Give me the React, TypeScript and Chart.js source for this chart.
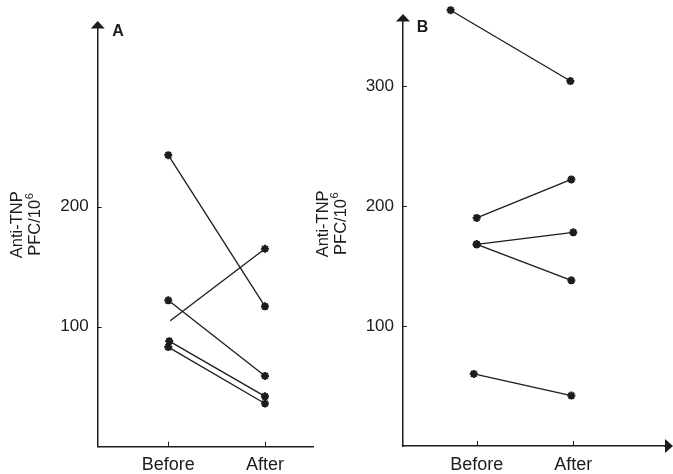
import React, { useEffect, useRef } from "react";
import { Chart, registerables } from "chart.js";

Chart.register(...registerables);

// ---- data ----
const xLabels = ["Before", "After"];

// Panel A
const panelA_before = [243, 105, 122, 88, 83];
const panelA_after = [117, 165, 59, 42, 36];
const panelA_beforeX = [0, 0.02, 0, 0.01, 0];
const panelA_afterX = [1, 1, 1, 1, 1];
const panelA_beforeMarker = [true, false, true, true, true];
const panelA_yTicks = [100, 200];

// Panel B
const panelB_before = [363, 190, 168, 168, 60];
const panelB_after = [304, 222, 178, 138, 42];
const panelB_beforeX = [-0.27, 0, 0, 0, -0.03];
const panelB_afterX = [0.97, 0.98, 1, 0.98, 0.98];
const panelB_beforeMarker = [true, true, true, true, true];
const panelB_yTicks = [100, 200, 300];

const INK = "#1c1c1c";
const FONT = '"Liberation Sans", Arial, Helvetica, sans-serif';

const decorPlugin = {
  id: "decor",
  afterDatasetsDraw(chart: any) {
    // draw markers that lie outside the chart area (clip: false)
    const area = chart.chartArea;
    chart.data.datasets.forEach((_d: any, i: number) => {
      const meta = chart.getDatasetMeta(i);
      meta.data.forEach((el: any) => {
        if (el.y < area.top - 2 || el.y > area.bottom + 2 || el.x < area.left - 2 || el.x > area.right + 2) {
          el.draw(chart.ctx);
        }
      });
    });
  },
  afterDraw(chart: any, _args: any, opts: any) {
    const { ctx, chartArea, scales } = chart;
    const xs = scales.x;
    const ys = scales.y;
    const left = chartArea.left;
    const top = chartArea.top;
    const bottom = chartArea.bottom;
    const right = chartArea.right;
    ctx.save();
    ctx.fillStyle = INK;
    ctx.strokeStyle = INK;
    // y arrow
    ctx.beginPath();
    ctx.moveTo(left - 7, top + 0.5);
    ctx.lineTo(left + 7, top + 0.5);
    ctx.lineTo(left, top - 7);
    ctx.closePath();
    ctx.fill();
    // x arrow
    if (opts.xArrow) {
      ctx.beginPath();
      ctx.moveTo(right - 1, bottom - 7);
      ctx.lineTo(right - 1, bottom + 7);
      ctx.lineTo(right + 7, bottom);
      ctx.closePath();
      ctx.fill();
      ctx.lineWidth = 1.5;
      ctx.beginPath();
      ctx.moveTo(right - 2, bottom);
      ctx.lineTo(right + 2, bottom);
      ctx.stroke();
    }
    // inward ticks
    ctx.lineWidth = 1;
    for (const v of opts.yTicks) {
      const py = Math.round(ys.getPixelForValue(v)) + 0.5;
      ctx.beginPath();
      ctx.moveTo(left, py);
      ctx.lineTo(left + 4, py);
      ctx.stroke();
    }
    for (const v of [0, 1]) {
      const px = Math.round(xs.getPixelForValue(v)) + 0.5;
      ctx.beginPath();
      ctx.moveTo(px, bottom);
      ctx.lineTo(px, bottom - 5);
      ctx.stroke();
    }
    // panel letter
    ctx.font = `bold 16px ${FONT}`;
    ctx.textAlign = "left";
    ctx.textBaseline = "alphabetic";
    ctx.fillText(opts.letter, left + opts.letterDx, top + opts.letterDy);
    // y title
    const cy = ys.getPixelForValue(185);
    ctx.textBaseline = "middle";
    ctx.save();
    ctx.translate(left - 80, cy);
    ctx.rotate(-Math.PI / 2);
    ctx.textAlign = "center";
    ctx.font = `16.5px ${FONT}`;
    ctx.fillText("Anti-TNP", 0, 0);
    ctx.restore();
    ctx.save();
    ctx.translate(left - 62, cy);
    ctx.rotate(-Math.PI / 2);
    ctx.textAlign = "left";
    ctx.font = `16.5px ${FONT}`;
    const main = "PFC/10";
    const w1 = ctx.measureText(main).width;
    ctx.font = `11px ${FONT}`;
    const w2 = ctx.measureText("6").width;
    const start = -(w1 + w2) / 2;
    ctx.font = `16.5px ${FONT}`;
    ctx.fillText(main, start, 0);
    ctx.font = `11px ${FONT}`;
    ctx.fillText("6", start + w1 + 0.5, -6);
    ctx.restore();
    ctx.restore();
  },
};

type PanelProps = {
  before: number[];
  after: number[];
  beforeX: number[];
  afterX: number[];
  beforeMarker: boolean[];
  yTicks: number[];
  letter: string;
  width: number;
  height: number;
  axisWidth: number;
  xAxisHeight: number;
  padTop: number;
  padRight: number;
  xMin: number;
  xMax: number;
  yMax: number;
  xArrow: boolean;
  letterDx: number;
  letterDy: number;
  style: React.CSSProperties;
};

function Panel(p: PanelProps) {
  const ref = useRef<HTMLCanvasElement | null>(null);
  useEffect(() => {
    if (!ref.current) return;
    const datasets = p.before.map((b, i) => ({
      data: [
        { x: p.beforeX[i], y: b },
        { x: p.afterX[i], y: p.after[i] },
      ],
      borderColor: INK,
      borderWidth: 1.3,
      pointStyle: "star",
      pointRadius: [p.beforeMarker[i] ? 4 : 0, 4],
      pointBorderWidth: 2.2,
      pointBorderColor: INK,
      pointBackgroundColor: INK,
      fill: false,
      tension: 0,
      clip: false as any,
    }));
    const chart = new Chart(ref.current, {
      type: "line",
      data: { datasets } as any,
      plugins: [decorPlugin],
      options: {
        animation: false,
        responsive: false,
        maintainAspectRatio: false,
        layout: { padding: { top: p.padTop, right: p.padRight, bottom: 0, left: 0 } },
        plugins: {
          legend: { display: false },
          tooltip: { enabled: false },
          decor: {
            letter: p.letter,
            yTicks: p.yTicks,
            xArrow: p.xArrow,
            letterDx: p.letterDx,
            letterDy: p.letterDy,
          },
        } as any,
        scales: {
          x: {
            type: "linear",
            min: p.xMin,
            max: p.xMax,
            afterBuildTicks: (s: any) => {
              s.ticks = [{ value: 0 }, { value: 1 }];
            },
            afterFit: (s: any) => {
              s.height = p.xAxisHeight;
            },
            ticks: {
              callback: (v: any) => (v === 0 ? xLabels[0] : v === 1 ? xLabels[1] : ""),
              font: { family: FONT, size: 18 },
              color: INK,
              padding: 8,
              maxRotation: 0,
              autoSkip: false,
            },
            grid: { display: false, drawTicks: false },
            border: { display: true, color: INK, width: 1.5 },
          },
          y: {
            type: "linear",
            min: 0,
            max: p.yMax,
            afterBuildTicks: (s: any) => {
              s.ticks = p.yTicks.map((v) => ({ value: v }));
            },
            afterFit: (s: any) => {
              s.width = p.axisWidth;
            },
            ticks: {
              font: { family: FONT, size: 17 },
              color: INK,
              padding: 9,
              autoSkip: false,
            },
            grid: { display: false, drawTicks: false },
            border: { display: true, color: INK, width: 1.5 },
          },
        } as any,
      },
    } as any);
    return () => chart.destroy();
  }, []);
  return <canvas ref={ref} width={p.width} height={p.height} style={p.style} />;
}

export default function App() {
  return (
    <div
      style={{
        position: "absolute",
        left: 0,
        top: 0,
        width: 673,
        height: 474,
        background: "#fff",
        overflow: "hidden",
      }}
    >
      <Panel
        before={panelA_before}
        after={panelA_after}
        beforeX={panelA_beforeX}
        afterX={panelA_afterX}
        beforeMarker={panelA_beforeMarker}
        yTicks={panelA_yTicks}
        letter="A"
        width={330}
        height={474}
        axisWidth={97.7}
        xAxisHeight={27.3}
        padTop={28}
        padRight={16.7}
        xMin={-0.73}
        xMax={1.5}
        yMax={349}
        xArrow={false}
        letterDx={14.5}
        letterDy={7.5}
        style={{ position: "absolute", left: 0, top: 0 }}
      />
      <Panel
        before={panelB_before}
        after={panelB_after}
        beforeX={panelB_beforeX}
        afterX={panelB_afterX}
        beforeMarker={panelB_beforeMarker}
        yTicks={panelB_yTicks}
        letter="B"
        width={383}
        height={474}
        axisWidth={113}
        xAxisHeight={28}
        padTop={21}
        padRight={7}
        xMin={-0.763}
        xMax={1.96}
        yMax={354}
        xArrow={true}
        letterDx={13.7}
        letterDy={10.7}
        style={{ position: "absolute", left: 290, top: 0 }}
      />
    </div>
  );
}
